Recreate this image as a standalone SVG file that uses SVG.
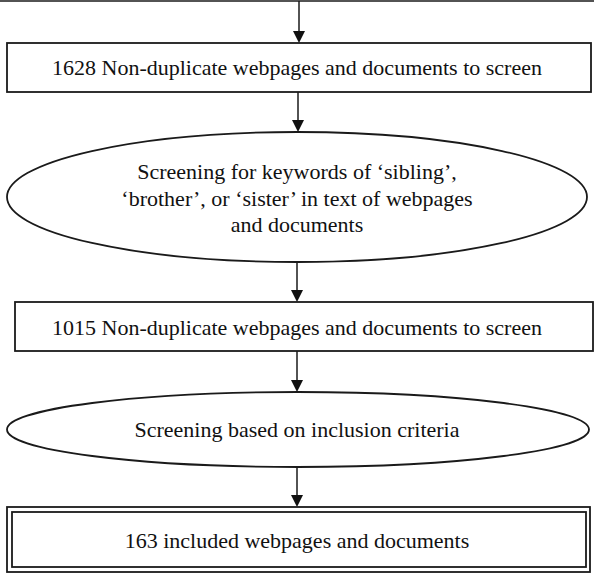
<svg xmlns="http://www.w3.org/2000/svg" width="594" height="573" viewBox="0 0 594 573">
<style>
.box{fill:#fff;stroke:#1a1a1a;stroke-width:1.8}
.t{font-family:"Liberation Serif","Times New Roman",serif;font-size:22px;fill:#111;text-anchor:middle}
.c{stroke:#1a1a1a;stroke-width:1.5;fill:none}
.ah{fill:#111}
</style>
<rect width="594" height="573" fill="#fff"/>
<g id="top-edge"><line x1="0" y1="1" x2="594" y2="1" class="c"/></g>
<g id="connectors">
<line x1="299" y1="1" x2="299" y2="36" class="c"/>
<path class="ah" d="M293,31 L305,31 L299,43 Z"/>
<line x1="298" y1="92" x2="298" y2="126" class="c"/>
<path class="ah" d="M292,120 L304,120 L298,132 Z"/>
<line x1="297" y1="262" x2="297" y2="296" class="c"/>
<path class="ah" d="M291,290 L303,290 L297,302 Z"/>
<line x1="297" y1="351" x2="297" y2="386" class="c"/>
<path class="ah" d="M291,380 L303,380 L297,392 Z"/>
<line x1="297" y1="467" x2="297" y2="501" class="c"/>
<path class="ah" d="M291,495 L303,495 L297,507 Z"/>
</g>
<g id="n1">
<rect x="7" y="43" width="584" height="49" class="box"/>
<text x="297" y="75" class="t">1628 Non-duplicate webpages and documents to screen</text>
</g>
<g id="n2">
<ellipse cx="297" cy="197" rx="290" ry="65" class="box"/>
<text x="297" y="179" class="t">Screening for keywords of ‘sibling’,</text>
<text x="297" y="206" class="t">‘brother’, or ‘sister’ in text of webpages</text>
<text x="297" y="232" class="t">and documents</text>
</g>
<g id="n3">
<rect x="15" y="302" width="578" height="49" class="box"/>
<text x="297" y="335" class="t">1015 Non-duplicate webpages and documents to screen</text>
</g>
<g id="n4">
<ellipse cx="298" cy="429.5" rx="291" ry="37.5" class="box"/>
<text x="297" y="437" class="t">Screening based on inclusion criteria</text>
</g>
<g id="n5">
<rect x="7" y="507" width="583" height="65" class="box"/>
<rect x="12" y="512" width="574" height="55" class="box"/>
<text x="297" y="548" class="t">163 included webpages and documents</text>
</g>
</svg>
